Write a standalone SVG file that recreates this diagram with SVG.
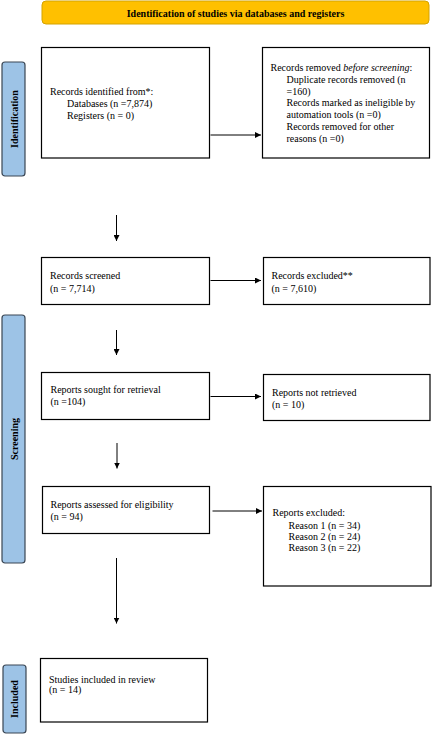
<svg xmlns="http://www.w3.org/2000/svg" width="432" height="734" viewBox="0 0 432 734">
<style>
text{font-family:"Liberation Serif","Times New Roman",serif;font-size:10px;fill:#000}
.box{fill:#fff;stroke:#000;stroke-width:1.2}
.side{fill:#9dc3e6;stroke:#3a4654;stroke-width:1.2}
.lab{font-weight:bold;font-size:10px}
.con line{stroke:#000;stroke-width:1}
</style>
<defs>
<marker id="ah" viewBox="0 0 10 10" refX="10" refY="5" markerWidth="6" markerHeight="6" orient="auto" markerUnits="userSpaceOnUse">
<path d="M0,0 L10,5 L0,10 z" fill="#000"/>
</marker>
</defs>
<rect width="432" height="734" fill="#fff"/>
<g id="header">
<rect x="42" y="1" width="387" height="23" rx="4" fill="#ffc000" stroke="#d4a300" stroke-width="1"/>
<text x="235.5" y="16.5" text-anchor="middle" class="lab">Identification of studies via databases and registers</text>
</g>
<g id="label-identification">
<rect class="side" x="2" y="62" width="23" height="114" rx="3"/>
<text class="lab" transform="translate(17.5,119) rotate(-90)" text-anchor="middle">Identification</text>
</g>
<g id="label-screening">
<rect class="side" x="2" y="315" width="23" height="248" rx="3"/>
<text class="lab" transform="translate(17.5,439) rotate(-90)" text-anchor="middle">Screening</text>
</g>
<g id="label-included">
<rect class="side" x="3" y="665" width="23" height="68" rx="3"/>
<text class="lab" transform="translate(18,699) rotate(-90)" text-anchor="middle">Included</text>
</g>
<g id="records-identified">
<rect class="box" x="41.5" y="47.5" width="168" height="110.5"/>
<text x="50" y="95">Records identified from*:</text>
<text x="67" y="107">Databases (n =7,874)</text>
<text x="67" y="118.5">Registers (n = 0)</text>
</g>
<g id="records-removed">
<rect class="box" x="262.5" y="47.5" width="167" height="110.5"/>
<text x="270.5" y="71">Records removed <tspan font-style="italic">before screening</tspan>:</text>
<text x="286.5" y="83">Duplicate records removed (n</text>
<text x="286.5" y="94.5">=160)</text>
<text x="286.5" y="106">Records marked as ineligible by</text>
<text x="286.5" y="118">automation tools (n =0)</text>
<text x="286.5" y="130">Records removed for other</text>
<text x="286.5" y="141.5">reasons (n =0)</text>
</g>
<g id="records-screened">
<rect class="box" x="41.5" y="257.5" width="168" height="47"/>
<text x="50" y="279">Records screened</text>
<text x="50" y="291.5">(n = 7,714)</text>
</g>
<g id="records-excluded">
<rect class="box" x="263.5" y="257.5" width="166.5" height="47"/>
<text x="271.5" y="279">Records excluded**</text>
<text x="271.5" y="291.5">(n = 7,610)</text>
</g>
<g id="reports-sought">
<rect class="box" x="41.5" y="372.5" width="168" height="47"/>
<text x="50.5" y="393">Reports sought for retrieval</text>
<text x="50.5" y="405">(n =104)</text>
</g>
<g id="reports-not-retrieved">
<rect class="box" x="263.5" y="374.5" width="166.5" height="46"/>
<text x="272" y="395.5">Reports not retrieved</text>
<text x="272" y="407.5">(n = 10)</text>
</g>
<g id="reports-assessed">
<rect class="box" x="42.5" y="486.5" width="167" height="47"/>
<text x="50.5" y="507.5">Reports assessed for eligibility</text>
<text x="50.5" y="520">(n = 94)</text>
</g>
<g id="reports-excluded">
<rect class="box" x="263.5" y="486.5" width="167.5" height="99.5"/>
<text x="272.5" y="516">Reports excluded:</text>
<text x="288.5" y="528.5">Reason 1 (n = 34)</text>
<text x="288.5" y="540">Reason 2 (n = 24)</text>
<text x="288.5" y="551">Reason 3 (n = 22)</text>
</g>
<g id="studies-included">
<rect class="box" x="40.5" y="658.5" width="167" height="63.5"/>
<text x="49" y="682.5">Studies included in review</text>
<text x="49" y="693">(n = 14)</text>
</g>
<g id="connectors" class="con">
<line x1="210.5" y1="135" x2="261" y2="135" marker-end="url(#ah)"/>
<line x1="116.5" y1="215" x2="116.5" y2="241" marker-end="url(#ah)"/>
<line x1="210.5" y1="280.5" x2="261" y2="280.5" marker-end="url(#ah)"/>
<line x1="116.5" y1="330" x2="116.5" y2="355" marker-end="url(#ah)"/>
<line x1="210.5" y1="396.5" x2="261" y2="396.5" marker-end="url(#ah)"/>
<line x1="117" y1="443" x2="117" y2="468.5" marker-end="url(#ah)"/>
<line x1="212.5" y1="511" x2="262" y2="511" marker-end="url(#ah)"/>
<line x1="116.5" y1="558" x2="116.5" y2="623.5" marker-end="url(#ah)"/>
</g>
</svg>
